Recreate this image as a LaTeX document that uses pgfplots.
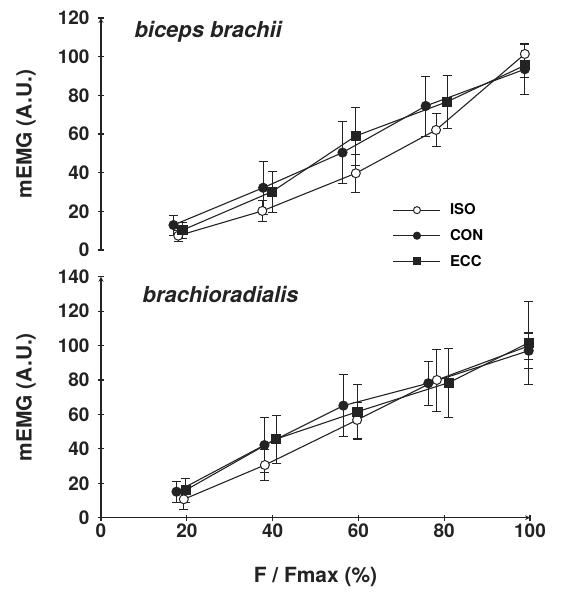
\documentclass[border=0pt]{standalone}
\usepackage{fontspec}
\setmainfont{TeX Gyre Heros}
\usepackage{pgfplots}
\pgfplotsset{compat=1.18}
\definecolor{ink}{RGB}{35,35,35}
\pgfplotsset{
  panel/.style={
    scale only axis, width=429bp, xmin=0, xmax=100,
    axis line style={ink, line width=1.2bp, -},
    tick style={ink, line width=1.2bp}, major tick length=6bp,
    tick align=inside,
    ticklabel style={font=\fontsize{19}{19}\selectfont\bfseries, text=ink},
    yticklabel style={xshift=-5bp},
    /pgf/number format/assume math mode=true,
    label style={font=\fontsize{21}{21}\selectfont\bfseries, text=ink},
    clip=false,
    ylabel={mEMG (A.U.)},
    ylabel style={at={(axis description cs:-0.175,0.5)}, anchor=center},
    error bars/y dir=both, error bars/y explicit,
    error bars/error bar style={line width=0.9bp, ink},
  },
  iso/.style={ink, line width=1.1bp, mark=*, mark size=4.5bp, mark options={fill=white, draw=ink, line width=1bp}},
  con/.style={ink, line width=1.1bp, mark=*, mark size=4.5bp, mark options={fill=ink, draw=ink}},
  ecc/.style={ink, line width=1.1bp, mark=square*, mark size=4.5bp, mark options={fill=ink, draw=ink}},
}
\begin{document}
\begin{tikzpicture}[x=1bp,y=1bp]
\path (-101bp,250bp) rectangle (460bp,-354bp);
% top panel
\begin{axis}[panel, at={(0bp,0bp)}, anchor=south west, height=232bp,
  ymin=0, ymax=120, ytick={0,20,...,120},
  axis x line=none, axis y line=left,
  legend style={at={(axis cs:68,25)}, anchor=north west, draw=none, fill=none,
    font=\fontsize{15}{15}\selectfont\bfseries, row sep=9bp, inner sep=0pt},
  legend cell align=left,
  legend image code/.code={\draw[mark repeat=2, mark phase=2, mark size=3.5bp] plot coordinates {(0bp,0bp) (23.5bp,0bp) (47bp,0bp)}; \path (54bp,0bp);},
]
\addplot[iso] coordinates {(18.0,7.4) +- (0,3) (37.6,20.2) +- (0,5.5) (59.4,39.7) +- (0,10) (78.1,62.1) +- (0,8.5) (98.8,101.4) +- (0,5.5)};
\addlegendentry{ISO}
\addplot[con] coordinates {(16.9,12.9) +- (0,5) (37.8,32.2) +- (0,13.5) (56.3,50.4) +- (0,16) (75.7,74.5) +- (0,15.5) (98.8,93.5) +- (0,13)};
\addlegendentry{CON}
\addplot[ecc] coordinates {(19.0,10.3) +- (0,4) (39.9,30.2) +- (0,10.5) (59.4,59.0) +- (0,15) (80.7,76.7) +- (0,13.5) (98.8,95.5) +- (0,6)};
\addlegendentry{ECC}
\node[anchor=west, font=\fontsize{22}{22}\selectfont\bfseries\itshape, text=ink] at (axis cs:7,113) {biceps brachii};
\end{axis}
% bottom panel
\begin{axis}[panel, at={(0bp,-267.7bp)}, anchor=south west, height=241bp,
  ymin=0, ymax=140, ytick={0,20,...,140}, xtick={0,20,...,100},
  axis lines=left,
  xlabel={F / Fmax (\%)},
  xlabel style={at={(axis description cs:0.5,-0.245)}, anchor=center},
]
\addplot[iso] coordinates {(19.3,10.7) +- (0,6) (38.2,30.6) +- (0,9) (59.7,56.8) +- (0,10.5) (78.3,80.0) +- (0,18) (99.7,99.8) +- (0,8)};
\addplot[con] coordinates {(17.6,15.1) +- (0,6) (38.1,42.2) +- (0,16) (56.5,65.1) +- (0,18) (76.3,78.1) +- (0,13) (99.7,97.0) +- (0,10)};
\addplot[ecc] coordinates {(19.8,16.1) +- (0,7) (40.8,45.7) +- (0,14) (59.8,61.6) +- (0,16) (81.1,78.5) +- (0,20) (99.7,101.7) +- (0,24)};
\node[anchor=west, font=\fontsize{22}{22}\selectfont\bfseries\itshape, text=ink] at (axis cs:8.9,129.4) {brachioradialis};
\end{axis}
\end{tikzpicture}
\end{document}
